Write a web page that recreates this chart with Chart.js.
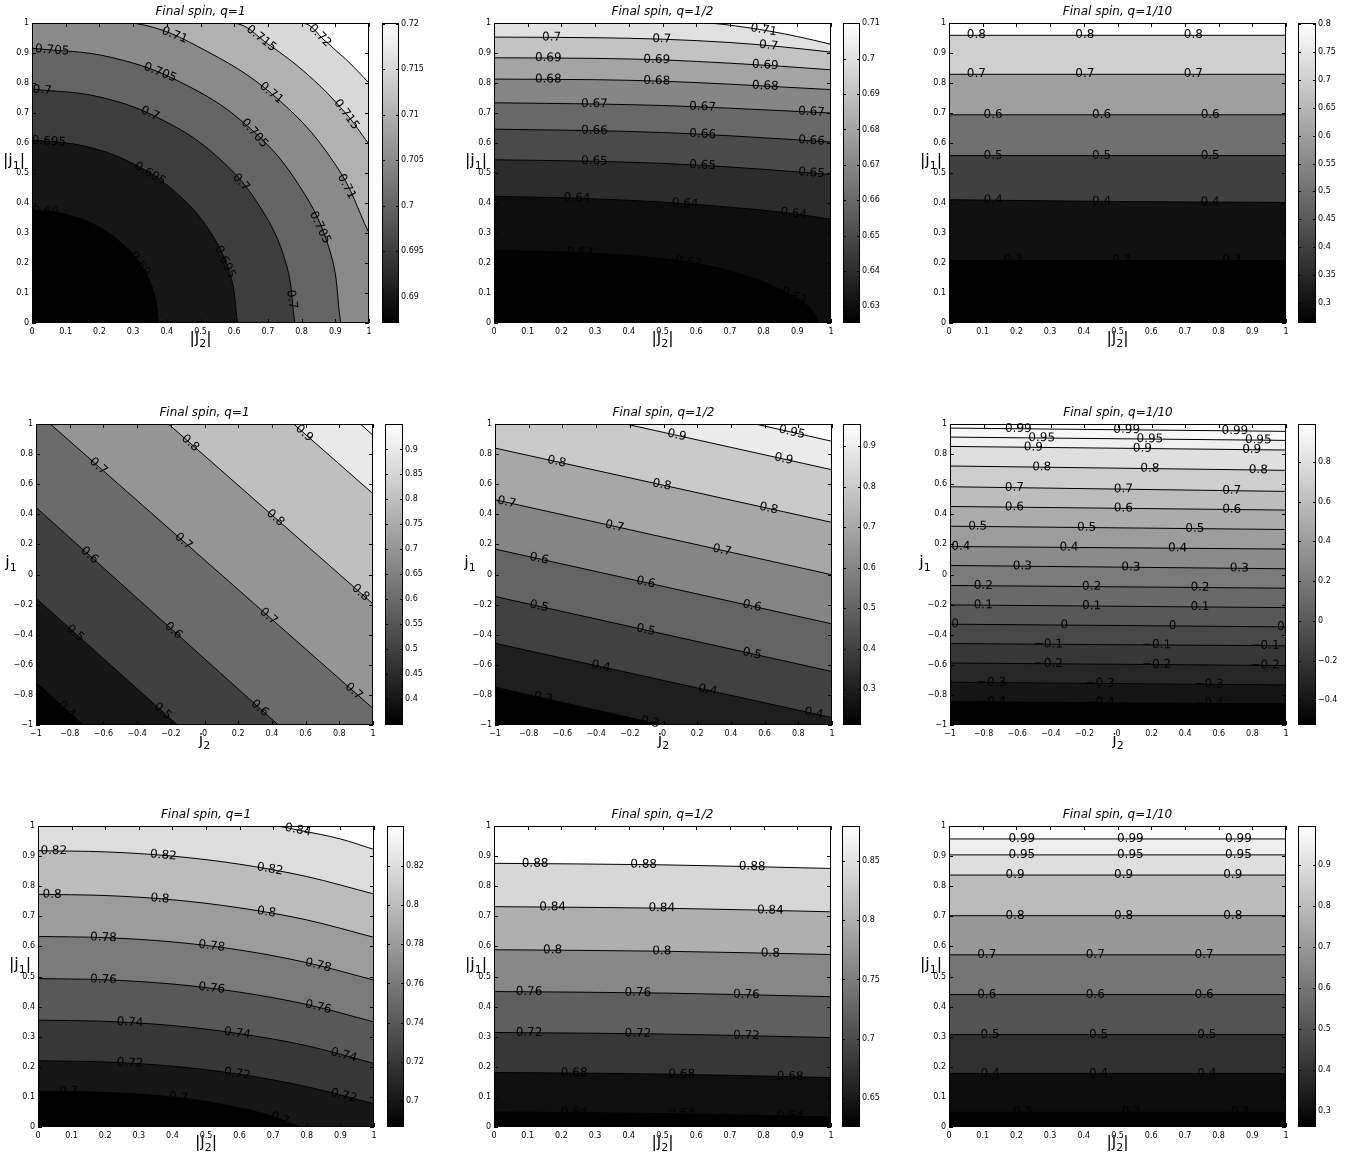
<!DOCTYPE html>
<html>
<head>
<meta charset="utf-8">
<title>Final spin contours</title>
<script src="https://cdn.jsdelivr.net/npm/chart.js@4.4.1/dist/chart.umd.min.js"></script>
<style>
  html, body { margin: 0; padding: 0; background: #fff; }
  body { width: 1351px; height: 1154px; position: relative; overflow: hidden; }
  canvas { position: absolute; }
</style>
</head>
<body>
<script>
Chart.defaults.font.family = '"DejaVu Sans", sans-serif';
Chart.defaults.color = '#000';

// axis tick values
const unitTicks = [0, 0.1, 0.2, 0.3, 0.4, 0.5, 0.6, 0.7, 0.8, 0.9, 1];
const signedTicks = [-1, -0.8, -0.6, -0.4, -0.2, 0, 0.2, 0.4, 0.6, 0.8, 1];

// ---- top row: |j1| vs |j2| ----
const a1Levels = [0.69, 0.695, 0.7, 0.705, 0.71, 0.715, 0.72];
const a1Lines = [
  [[0, 0.376], [0.097, 0.363], [0.188, 0.326], [0.266, 0.266], [0.326, 0.188], [0.363, 0.097], [0.376, 0]],
  [[0, 0.61], [0.158, 0.589], [0.305, 0.528], [0.431, 0.431], [0.528, 0.305], [0.589, 0.158], [0.61, 0]],
  [[0, 0.78], [0.202, 0.753], [0.39, 0.675], [0.552, 0.552], [0.675, 0.39], [0.753, 0.202], [0.78, 0]],
  [[0, 0.916], [0.237, 0.885], [0.458, 0.793], [0.648, 0.648], [0.793, 0.458], [0.885, 0.237], [0.916, 0]],
  [[0, 1], [0.3, 1], [0.52, 0.905], [0.738, 0.738], [0.905, 0.52], [1, 0.3]],
  [[0, 1], [0.596, 1], [0.7, 0.93], [0.823, 0.823], [0.93, 0.7], [1, 0.596]],
  [[0, 1], [0.8, 1], [0.87, 0.94], [0.905, 0.905], [0.94, 0.87], [1, 0.8]]
];
const a1LabelX = [[0.04, 0.32], [0.05, 0.35, 0.572], [0.03, 0.35, 0.62, 0.77], [0.06, 0.38, 0.66, 0.854],
  [0.423, 0.71, 0.933], [0.68, 0.933], [0.854]];
const a1Range = [0.6871, 0.7201];
const a1BarTicks = [0.69, 0.695, 0.7, 0.705, 0.71, 0.715, 0.72];

const a2Levels = [0.63, 0.64, 0.65, 0.66, 0.67, 0.68, 0.69, 0.7, 0.71];
const a2Lines = [
  [[0, 0.242], [0.28, 0.233], [0.577, 0.203], [0.775, 0.148], [0.874, 0.098], [0.924, 0.064], [0.953, 0.026], [0.963, 0]],
  [[0, 0.422], [0.25, 0.416], [0.5, 0.403], [0.7, 0.386], [0.85, 0.37], [1, 0.346]],
  [[0, 0.544], [0.3, 0.539], [0.5, 0.532], [0.7, 0.52], [0.85, 0.508], [1, 0.495]],
  [[0, 0.646], [0.3, 0.641], [0.5, 0.635], [0.7, 0.624], [0.85, 0.614], [1, 0.603]],
  [[0, 0.734], [0.3, 0.73], [0.5, 0.725], [0.7, 0.716], [0.85, 0.708], [1, 0.7]],
  [[0, 0.813], [0.3, 0.811], [0.5, 0.806], [0.7, 0.796], [0.85, 0.787], [1, 0.778]],
  [[0, 0.884], [0.3, 0.882], [0.5, 0.877], [0.7, 0.866], [0.85, 0.856], [1, 0.844]],
  [[0, 0.953], [0.3, 0.951], [0.5, 0.946], [0.7, 0.935], [0.85, 0.921], [1, 0.903]],
  [[0, 1], [0.617, 1], [0.75, 0.985], [0.9, 0.955], [1, 0.929]]
];
const a2LabelX = [[0.255, 0.577, 0.889], [0.246, 0.567, 0.889], [0.298, 0.619, 0.942], [0.298, 0.619, 0.942],
  [0.298, 0.619, 0.942], [0.161, 0.483, 0.805], [0.161, 0.483, 0.805], [0.171, 0.498, 0.815], [0.8]];
const a2Range = [0.6253, 0.7101];
const a2BarTicks = [0.63, 0.64, 0.65, 0.66, 0.67, 0.68, 0.69, 0.7, 0.71];

const a3Levels = [0.3, 0.4, 0.5, 0.6, 0.7, 0.8];
const a3Lines = [
  [[0, 0.209], [1, 0.209]],
  [[0, 0.411], [0.5, 0.405], [1, 0.402]],
  [[0, 0.558], [1, 0.558]],
  [[0, 0.694], [1, 0.694]],
  [[0, 0.829], [1, 0.829]],
  [[0, 0.959], [1, 0.959]]
];
const a3LabelX = [[0.19, 0.512, 0.839], [0.131, 0.453, 0.775], [0.131, 0.453, 0.775], [0.131, 0.453, 0.775],
  [0.081, 0.403, 0.725], [0.081, 0.403, 0.725]];
const a3Range = [0.264, 0.802];
const a3BarTicks = [0.3, 0.35, 0.4, 0.45, 0.5, 0.55, 0.6, 0.65, 0.7, 0.75, 0.8];

// ---- middle row: j1 vs j2 ----
const b1Levels = [0.4, 0.5, 0.6, 0.7, 0.8, 0.9, 0.95];
const b1Lines = [
  [[-1, -0.716], [-0.719, -1]],
  [[-1, -0.157], [-0.16, -1]],
  [[-1, 0.446], [0.438, -1]],
  [[-1, 1], [-0.915, 1], [1, -0.89]],
  [[-1, 1], [-0.214, 1], [1, -0.195]],
  [[-1, 1], [0.529, 1], [1, 0.537]],
  [[-1, 1], [0.925, 1], [1, 0.925]]
];
const b1LabelX = [[-0.818], [-0.768, -0.25], [-0.683, -0.184, 0.327], [-0.63, -0.125, 0.38, 0.885],
  [-0.085, 0.42, 0.925], [0.592], []];
const b1Range = [0.348, 0.951];
const b1BarTicks = [0.4, 0.45, 0.5, 0.55, 0.6, 0.65, 0.7, 0.75, 0.8, 0.85, 0.9];

const b2Levels = [0.3, 0.4, 0.5, 0.6, 0.7, 0.8, 0.9, 0.95];
const b2Lines = [
  [[-1, -0.749], [-0.006, -1]],
  [[-1, -0.457], [1, -0.951]],
  [[-1, -0.146], [1, -0.645]],
  [[-1, 0.169], [1, -0.328]],
  [[-1, 0.497], [1, -0.002]],
  [[-1, 0.84], [1, 0.346]],
  [[-1, 1], [-0.224, 1], [1, 0.696]],
  [[-1, 1], [0.545, 1], [1, 0.885]]
];
const b2LabelX = [[-0.713, -0.079], [-0.372, 0.261, 0.891], [-0.739, -0.105, 0.525], [-0.739, -0.105, 0.525],
  [-0.931, -0.291, 0.347], [-0.634, -0.01, 0.624], [0.079, 0.713], [0.762]];
const b2Range = [0.212, 0.955];
const b2BarTicks = [0.3, 0.4, 0.5, 0.6, 0.7, 0.8, 0.9];

const b3Levels = [-0.4, -0.3, -0.2, -0.1, 0, 0.1, 0.2, 0.3, 0.4, 0.5, 0.6, 0.7, 0.8, 0.9, 0.95, 0.99];
const b3Lines = [
  [[-1, -0.845], [1, -0.86]],
  [[-1, -0.716], [1, -0.734]],
  [[-1, -0.588], [1, -0.605]],
  [[-1, -0.459], [1, -0.474]],
  [[-1, -0.33], [1, -0.348]],
  [[-1, -0.202], [1, -0.22]],
  [[-1, -0.073], [1, -0.091]],
  [[-1, 0.06], [1, 0.038]],
  [[-1, 0.186], [1, 0.169]],
  [[-1, 0.321], [1, 0.299]],
  [[-1, 0.452], [1, 0.428]],
  [[-1, 0.583], [1, 0.552]],
  [[-1, 0.721], [1, 0.692]],
  [[-1, 0.851], [1, 0.827]],
  [[-1, 0.913], [1, 0.891]],
  [[-1, 0.973], [1, 0.951]]
];
const b3LabelX = [
  [-0.752, -0.107, 0.542], [-0.752, -0.107, 0.542], [-0.415, 0.23, 0.875], [-0.415, 0.23, 0.875],
  [-0.97, -0.319, 0.325, 0.97], [-0.802, -0.157, 0.488], [-0.802, -0.157, 0.488], [-0.569, 0.077, 0.722],
  [-0.935, -0.292, 0.355], [-0.835, -0.187, 0.458], [-0.617, 0.032, 0.677], [-0.617, 0.032, 0.677],
  [-0.454, 0.19, 0.835], [-0.504, 0.145, 0.796], [-0.454, 0.19, 0.835], [-0.593, 0.052, 0.696]
];
const b3Range = [-0.524, 0.991];
const b3BarTicks = [-0.4, -0.2, 0, 0.2, 0.4, 0.6, 0.8];

// ---- bottom row: |j1| vs |j2| ----
const c1Levels = [0.7, 0.72, 0.74, 0.76, 0.78, 0.8, 0.82, 0.84];
const c1Lines = [
  [[0, 0.119], [0.2, 0.115], [0.4, 0.1], [0.55, 0.075], [0.7, 0.035], [0.74, 0.018], [0.78, 0]],
  [[0, 0.22], [0.2, 0.216], [0.4, 0.202], [0.6, 0.175], [0.8, 0.134], [1, 0.077]],
  [[0, 0.355], [0.2, 0.351], [0.4, 0.337], [0.6, 0.31], [0.8, 0.27], [1, 0.211]],
  [[0, 0.493], [0.2, 0.489], [0.4, 0.475], [0.6, 0.448], [0.8, 0.407], [1, 0.349]],
  [[0, 0.633], [0.2, 0.629], [0.4, 0.615], [0.6, 0.588], [0.8, 0.546], [1, 0.488]],
  [[0, 0.773], [0.2, 0.769], [0.4, 0.755], [0.6, 0.728], [0.8, 0.688], [1, 0.63]],
  [[0, 0.918], [0.2, 0.914], [0.4, 0.9], [0.6, 0.873], [0.8, 0.832], [1, 0.774]],
  [[0, 1], [0.7, 1], [0.78, 0.985], [0.9, 0.957], [1, 0.922]]
];
const c1LabelX = [[0.091, 0.418, 0.72], [0.274, 0.593, 0.91], [0.274, 0.593, 0.91], [0.195, 0.517, 0.834],
  [0.195, 0.517, 0.834], [0.042, 0.363, 0.68], [0.047, 0.373, 0.69], [0.774]];
const c1Range = [0.6867, 0.8404];
const c1BarTicks = [0.7, 0.72, 0.74, 0.76, 0.78, 0.8, 0.82];

const c2Levels = [0.64, 0.68, 0.72, 0.76, 0.8, 0.84, 0.88];
const c2Lines = [
  [[0, 0.05], [0.5, 0.045], [1, 0.033]],
  [[0, 0.181], [0.5, 0.176], [1, 0.164]],
  [[0, 0.314], [0.5, 0.309], [1, 0.297]],
  [[0, 0.45], [0.5, 0.445], [1, 0.433]],
  [[0, 0.589], [0.5, 0.584], [1, 0.573]],
  [[0, 0.732], [0.5, 0.727], [1, 0.715]],
  [[0, 0.876], [0.5, 0.871], [1, 0.859]]
];
const c2LabelX = [[0.238, 0.557, 0.879], [0.238, 0.557, 0.879], [0.104, 0.427, 0.749], [0.104, 0.427, 0.749],
  [0.174, 0.498, 0.82], [0.174, 0.498, 0.82], [0.122, 0.444, 0.766]];
const c2Range = [0.6255, 0.8795];
const c2BarTicks = [0.65, 0.7, 0.75, 0.8, 0.85];

const c3Levels = [0.3, 0.4, 0.5, 0.6, 0.7, 0.8, 0.9, 0.95, 0.99];
const c3Lines = [
  [[0, 0.049], [1, 0.049]],
  [[0, 0.177], [1, 0.177]],
  [[0, 0.307], [1, 0.307]],
  [[0, 0.44], [1, 0.44]],
  [[0, 0.572], [1, 0.572]],
  [[0, 0.702], [1, 0.702]],
  [[0, 0.837], [1, 0.837]],
  [[0, 0.904], [1, 0.904]],
  [[0, 0.957], [1, 0.957]]
];
const c3LabelX = [[0.218, 0.541, 0.864], [0.122, 0.444, 0.765], [0.122, 0.444, 0.765], [0.112, 0.434, 0.757],
  [0.112, 0.434, 0.757], [0.196, 0.518, 0.842], [0.196, 0.518, 0.842], [0.216, 0.538, 0.859], [0.216, 0.538, 0.859]];
const c3Range = [0.262, 0.996];
const c3BarTicks = [0.3, 0.4, 0.5, 0.6, 0.7, 0.8, 0.9];

// panel layout (plot box in page pixels, colorbar left/right); curve: 'arc' | 'smooth' | 'straight'
const panels = [
  {title: 'Final spin, q=1', lv: a1Levels, ln: a1Lines, lx: a1LabelX, rg: a1Range, bt: a1BarTicks, ticks: unitTicks, abs: true, curve: 'arc', box: [32, 23, 369, 323], cbar: [382, 399]},
  {title: 'Final spin, q=1/2', lv: a2Levels, ln: a2Lines, lx: a2LabelX, rg: a2Range, bt: a2BarTicks, ticks: unitTicks, abs: true, curve: 'smooth', box: [494, 23, 831, 323], cbar: [843, 860]},
  {title: 'Final spin, q=1/10', lv: a3Levels, ln: a3Lines, lx: a3LabelX, rg: a3Range, bt: a3BarTicks, ticks: unitTicks, abs: true, curve: 'smooth', box: [949, 23, 1286, 323], cbar: [1298, 1316]},
  {title: 'Final spin, q=1', lv: b1Levels, ln: b1Lines, lx: b1LabelX, rg: b1Range, bt: b1BarTicks, ticks: signedTicks, abs: false, curve: 'straight', box: [36, 424, 373, 725], cbar: [385, 403]},
  {title: 'Final spin, q=1/2', lv: b2Levels, ln: b2Lines, lx: b2LabelX, rg: b2Range, bt: b2BarTicks, ticks: signedTicks, abs: false, curve: 'straight', box: [495, 424, 832, 725], cbar: [843, 861]},
  {title: 'Final spin, q=1/10', lv: b3Levels, ln: b3Lines, lx: b3LabelX, rg: b3Range, bt: b3BarTicks, ticks: signedTicks, abs: false, curve: 'straight', box: [950, 424, 1286, 725], cbar: [1298, 1316]},
  {title: 'Final spin, q=1', lv: c1Levels, ln: c1Lines, lx: c1LabelX, rg: c1Range, bt: c1BarTicks, ticks: unitTicks, abs: true, curve: 'smooth', box: [38, 826, 374, 1127], cbar: [387, 404]},
  {title: 'Final spin, q=1/2', lv: c2Levels, ln: c2Lines, lx: c2LabelX, rg: c2Range, bt: c2BarTicks, ticks: unitTicks, abs: true, curve: 'smooth', box: [494, 826, 831, 1127], cbar: [842, 860]},
  {title: 'Final spin, q=1/10', lv: c3Levels, ln: c3Lines, lx: c3LabelX, rg: c3Range, bt: c3BarTicks, ticks: unitTicks, abs: true, curve: 'smooth', box: [949, 826, 1286, 1127], cbar: [1298, 1316]}
];

function fmt(v) {
  return String(Number(v.toFixed(4))).replace('-', '\u2212');
}

function grey(v, rg) {
  let t = (v - rg[0]) / (rg[1] - rg[0]);
  t = Math.max(0, Math.min(1, t));
  const g = Math.round(t * 255);
  return 'rgb(' + g + ',' + g + ',' + g + ')';
}

function addCanvas(left, top, w, h) {
  const cv = document.createElement('canvas');
  cv.width = w; cv.height = h;
  cv.style.left = left + 'px'; cv.style.top = top + 'px';
  cv.style.width = w + 'px'; cv.style.height = h + 'px';
  document.body.appendChild(cv);
  return cv;
}

// point on a drawn contour line at pixel x
function onLine(meta, px) {
  const line = meta.dataset;
  let r = null;
  try { r = line.interpolate({x: px}, 'x'); } catch (e) { r = null; }
  if (Array.isArray(r)) r = r[0];
  if (r && isFinite(r.y)) return r;
  const pts = meta.data;
  for (let k = 1; k < pts.length; k++) {
    const a = pts[k - 1], b = pts[k];
    if (px >= a.x && px <= b.x) {
      const t = (px - a.x) / ((b.x - a.x) || 1);
      return {x: px, y: a.y + t * (b.y - a.y)};
    }
  }
  return null;
}

function subLabel(ctx, main, sub, tail, cx, base) {
  ctx.font = '16px "DejaVu Sans"';
  const w1 = ctx.measureText(main).width, w3 = ctx.measureText(tail).width;
  ctx.font = '11px "DejaVu Sans"';
  const w2 = ctx.measureText(sub).width;
  const x = cx - (w1 + w2 + w3) / 2;
  ctx.textAlign = 'left';
  ctx.textBaseline = 'alphabetic';
  ctx.font = '16px "DejaVu Sans"';
  ctx.fillText(main, x, base);
  ctx.font = '11px "DejaVu Sans"';
  ctx.fillText(sub, x + w1, base + 4);
  ctx.font = '16px "DejaVu Sans"';
  ctx.fillText(tail, x + w1 + w2, base);
}

function decor(p) {
  return {
    id: 'decor',
    beforeDatasetsDraw(chart) {
      const {ctx, chartArea: a} = chart;
      ctx.save();
      ctx.fillStyle = grey(p.lv[p.lv.length - 1], p.rg);
      ctx.fillRect(a.left, a.top, a.right - a.left, a.bottom - a.top);
      ctx.restore();
    },
    afterDatasetsDraw(chart) {
      const {ctx, chartArea: a} = chart;
      const xs = chart.scales.x, ys = chart.scales.y;
      ctx.save();
      // contour labels
      ctx.fillStyle = '#000';
      ctx.font = '12px "DejaVu Sans"';
      ctx.textAlign = 'center';
      ctx.textBaseline = 'middle';
      p.lx.forEach((list, i) => {
        const meta = chart.getDatasetMeta(i);
        list.forEach(v => {
          const px = xs.getPixelForValue(v);
          const c = onLine(meta, px);
          if (!c) return;
          const c1 = onLine(meta, px - 2) || c;
          const c2 = onLine(meta, px + 2) || c;
          const ang = (c1 === c2) ? 0 : Math.atan2(c2.y - c1.y, c2.x - c1.x);
          ctx.save();
          ctx.translate(c.x, c.y);
          ctx.rotate(ang);
          ctx.fillText(fmt(p.lv[i]), 0, 0);
          ctx.restore();
        });
      });
      // box with inward ticks
      ctx.strokeStyle = '#000';
      ctx.lineWidth = 1;
      ctx.strokeRect(a.left + 0.5, a.top + 0.5, a.right - a.left - 1, a.bottom - a.top - 1);
      ctx.beginPath();
      xs.ticks.forEach(t => {
        const x = Math.round(xs.getPixelForValue(t.value)) + 0.5;
        ctx.moveTo(x, a.bottom); ctx.lineTo(x, a.bottom - 4);
        ctx.moveTo(x, a.top); ctx.lineTo(x, a.top + 4);
      });
      ys.ticks.forEach(t => {
        const y = Math.round(ys.getPixelForValue(t.value)) + 0.5;
        ctx.moveTo(a.left, y); ctx.lineTo(a.left + 4, y);
        ctx.moveTo(a.right, y); ctx.lineTo(a.right - 4, y);
      });
      ctx.stroke();
      // title and axis names
      ctx.fillStyle = '#000';
      ctx.font = 'italic 12px "DejaVu Sans"';
      ctx.textAlign = 'center';
      ctx.textBaseline = 'alphabetic';
      ctx.fillText(p.title, (a.left + a.right) / 2, a.top - 8);
      const bar = p.abs ? '|' : '';
      subLabel(ctx, bar + 'j', '2', bar, (a.left + a.right) / 2, a.bottom + 20);
      subLabel(ctx, bar + 'j', '1', bar, a.left - (p.abs ? 18 : 25), (a.top + a.bottom) / 2 - 8);
      ctx.restore();
    }
  };
}

function axisOpts(ticks, isX) {
  return {
    type: 'linear',
    min: ticks[0],
    max: ticks[ticks.length - 1],
    grid: {display: false, drawTicks: false},
    border: {display: false},
    afterBuildTicks: s => { s.ticks = ticks.map(v => ({value: v})); },
    afterFit: s => {
      if (isX) { s.height = 32; s.paddingLeft = 0; s.paddingRight = 0; }
      else { s.width = 34; s.paddingTop = 0; s.paddingBottom = 0; }
    },
    ticks: {autoSkip: false, maxRotation: 0, padding: isX ? 4 : 3, font: {size: 8}, color: '#000', callback: v => fmt(v)}
  };
}

function drawContour(p) {
  const [pl, pt, pr, pb] = p.box;
  const cv = addCanvas(pl - 34, pt - 22, pr - pl + 44, pb - pt + 54);
  const datasets = p.lv.map((lev, i) => ({
    label: fmt(lev),
    data: p.ln[i].map(q => ({x: q[0], y: q[1]})),
    fill: 'start',
    backgroundColor: grey(i === 0 ? p.rg[0] : p.lv[i - 1], p.rg),
    borderColor: '#000',
    borderWidth: 1,
    pointRadius: 0,
    tension: p.curve === 'arc' ? 0.4 : 0,
    cubicInterpolationMode: p.curve === 'smooth' ? 'monotone' : 'default',
    clip: 0
  }));
  new Chart(cv, {
    type: 'line',
    data: {datasets},
    options: {
      responsive: false,
      animation: false,
      devicePixelRatio: 1,
      layout: {padding: {left: 0, right: 10, top: 22, bottom: 0}},
      plugins: {legend: {display: false}, tooltip: {enabled: false}, title: {display: false}},
      scales: {x: axisOpts(p.ticks, true), y: axisOpts(p.ticks, false)}
    },
    plugins: [decor(p)]
  });
}

function drawColorbar(p) {
  const [cl, cr] = p.cbar;
  const [, pt, , pb] = p.box;
  const cv = addCanvas(cl, pt - 6, cr - cl + 32, pb - pt + 12);
  const lo = p.rg[0], hi = p.rg[1];
  new Chart(cv, {
    type: 'bar',
    data: {
      labels: [''],
      datasets: [{
        data: [[lo, hi]],
        borderWidth: 0,
        barPercentage: 1,
        categoryPercentage: 1,
        backgroundColor: c => {
          const area = c.chart.chartArea;
          if (!area) return '#808080';
          const g = c.chart.ctx.createLinearGradient(0, area.bottom, 0, area.top);
          g.addColorStop(0, '#000');
          g.addColorStop(1, '#fff');
          return g;
        }
      }]
    },
    options: {
      responsive: false,
      animation: false,
      devicePixelRatio: 1,
      layout: {padding: {left: 0, right: 0, top: 6, bottom: 6}},
      plugins: {legend: {display: false}, tooltip: {enabled: false}},
      scales: {
        x: {display: false},
        y: {
          position: 'right',
          min: lo,
          max: hi,
          grid: {display: false, drawTicks: false},
          border: {display: false},
          afterBuildTicks: s => { s.ticks = p.bt.map(v => ({value: v})); },
          afterFit: s => { s.width = 32; s.paddingTop = 0; s.paddingBottom = 0; },
          ticks: {autoSkip: false, padding: 2, font: {size: 8}, color: '#000', callback: v => fmt(v)}
        }
      }
    },
    plugins: [{
      id: 'barFrame',
      afterDraw(chart) {
        const {ctx, chartArea: a} = chart;
        const ys = chart.scales.y;
        ctx.save();
        ctx.strokeStyle = '#000';
        ctx.lineWidth = 1;
        ctx.strokeRect(a.left + 0.5, a.top + 0.5, a.right - a.left - 1, a.bottom - a.top - 1);
        ctx.beginPath();
        ys.ticks.forEach(t => {
          const y = Math.round(ys.getPixelForValue(t.value)) + 0.5;
          ctx.moveTo(a.left, y); ctx.lineTo(a.left + 3, y);
          ctx.moveTo(a.right, y); ctx.lineTo(a.right - 3, y);
        });
        ctx.stroke();
        ctx.restore();
      }
    }]
  });
}

panels.forEach(p => { drawContour(p); drawColorbar(p); });
</script>
</body>
</html>
